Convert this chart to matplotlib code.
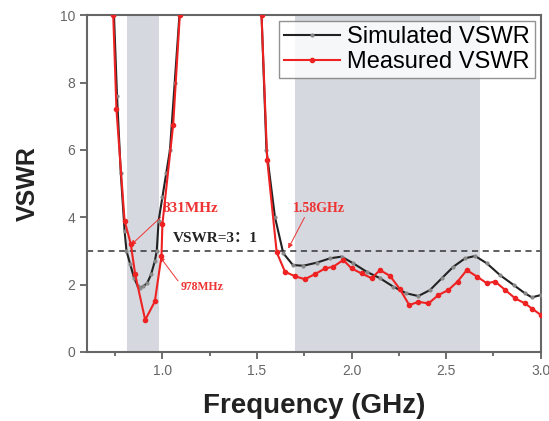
"""VSWR chart."""
import matplotlib
matplotlib.use("Agg")
import matplotlib.pyplot as plt
from matplotlib.ticker import MultipleLocator

# simulated VSWR, low band and high band
sim_f1 = [0.744, 0.76, 0.78, 0.80, 0.81, 0.83, 0.85, 0.87, 0.88, 0.90, 0.92,
          0.94, 0.96, 0.97, 0.98, 1.00, 1.02, 1.04, 1.065, 1.09]
sim_v1 = [10.0, 7.6, 5.3, 3.6, 3.0, 2.6, 2.2, 1.95, 1.9, 1.95, 2.05,
          2.3, 2.7, 3.0, 3.9, 4.6, 5.3, 6.0, 8.0, 10.0]
sim_f2 = [1.524, 1.55, 1.595, 1.639, 1.69, 1.745, 1.815, 1.886, 1.947, 2.009,
          2.08, 2.15, 2.22, 2.29, 2.353, 2.415, 2.477, 2.538, 2.60, 2.653,
          2.715, 2.785, 2.856, 2.917, 2.953, 3.0]
sim_v2 = [10.0, 6.0, 4.0, 2.93, 2.58, 2.56, 2.65, 2.78, 2.83, 2.63,
          2.38, 2.19, 1.94, 1.74, 1.66, 1.84, 2.19, 2.53, 2.78, 2.85,
          2.63, 2.28, 1.99, 1.74, 1.62, 1.69]

# measured VSWR
mea_f1 = [0.74, 0.757, 0.80, 0.833, 0.856, 0.909, 0.96, 0.995, 1.0, 1.057,
          1.092]
mea_v1 = [10.0, 7.2, 3.9, 3.2, 2.3, 0.95, 1.5, 2.85, 3.8, 6.75, 10.0]
mea_f2 = [1.524, 1.554, 1.604, 1.648, 1.70, 1.753, 1.806, 1.86, 1.903, 1.956,
          2.0, 2.053, 2.106, 2.15, 2.203, 2.256, 2.305, 2.353, 2.406, 2.459,
          2.512, 2.56, 2.609, 2.662, 2.715, 2.759, 2.812, 2.865, 2.917,
          2.953, 3.0]
mea_v2 = [10.0, 5.7, 2.96, 2.38, 2.25, 2.16, 2.31, 2.48, 2.53, 2.73,
          2.48, 2.33, 2.19, 2.43, 2.26, 1.86, 1.39, 1.49, 1.44, 1.69,
          1.84, 2.09, 2.43, 2.24, 2.04, 2.09, 1.84, 1.59, 1.44,
          1.29, 1.10]

bands = [(0.815, 0.982), (1.70, 2.68)]


def main():
    """Draw it."""
    plt.rcParams["font.family"] = ["Liberation Sans", "DejaVu Sans"]
    dpi = 100
    fig = plt.figure(dpi=dpi, figsize=(549 / dpi, 421 / dpi))
    ax = fig.add_axes([0.158, 0.164, 0.827, 0.800])

    for lo, hi in bands:
        ax.axvspan(lo, hi, color="#d5d8de", lw=0, zorder=0)
    ax.axhline(3, color="#333333", ls="--", lw=1.1, dashes=(4, 3), zorder=1)

    ax.plot(sim_f1, sim_v1, color="#222222", lw=1.5, marker="o", ms=2,
            mfc="#888888", mec="#888888", zorder=3, label="Simulated VSWR")
    ax.plot(sim_f2, sim_v2, color="#222222", lw=1.5, marker="o", ms=2,
            mfc="#888888", mec="#888888", zorder=3)
    ax.plot(mea_f1, mea_v1, color="#ee2222", lw=1.5, marker="o", ms=3,
            zorder=4, label="Measured VSWR")
    ax.plot(mea_f2, mea_v2, color="#ee2222", lw=1.5, marker="o", ms=3,
            zorder=4)

    red = "#ee3333"
    serif = ["Liberation Serif", "Noto Sans CJK SC"]
    ax.annotate("831MHz", xy=(0.833, 3.17), xytext=(1.0, 4.27), color=red,
                fontsize=11, fontweight="bold", family=serif, va="center",
                arrowprops=dict(arrowstyle="-|>", color=red, lw=0.7,
                                mutation_scale=7, shrinkA=0, shrinkB=0,
                                relpos=(0.02, 0.0)))
    ax.annotate("978MHz", xy=(0.986, 2.83), xytext=(1.097, 1.93), color=red,
                fontsize=8.5, fontweight="bold", family=serif, va="center",
                arrowprops=dict(arrowstyle="-|>", color=red, lw=0.7,
                                mutation_scale=7, shrinkA=0, shrinkB=0,
                                relpos=(0.0, 0.7)))
    ax.annotate("1.58GHz", xy=(1.665, 3.07), xytext=(1.69, 4.27), color=red,
                fontsize=10, fontweight="bold", family=serif, va="center",
                arrowprops=dict(arrowstyle="-|>", color=red, lw=0.7,
                                mutation_scale=7, shrinkA=0, shrinkB=0,
                                relpos=(0.25, 0.0)))
    ax.text(1.055, 3.38, "VSWR=3：1", fontsize=11, fontweight="bold",
            family=serif, color="#222222", va="center")

    ax.set_xlim(0.6, 3.0)
    ax.set_ylim(0, 10)
    ax.xaxis.set_major_locator(MultipleLocator(0.5))
    ax.xaxis.set_minor_locator(MultipleLocator(0.25))
    ax.yaxis.set_major_locator(MultipleLocator(2))
    ax.tick_params(axis="both", which="major", length=5, width=1.2,
                   colors="#555555", labelsize=10, labelcolor="#666666")
    ax.tick_params(axis="x", which="minor", length=3, width=1.2,
                   colors="#555555")
    for sp in ax.spines.values():
        sp.set_color("#666666")
        sp.set_linewidth(1.5)

    ax.set_xlabel("Frequency (GHz)", fontsize=20, fontweight="bold",
                  color="#222222", labelpad=11)
    ax.set_ylabel("VSWR", fontsize=18, fontweight="bold", color="#222222",
                  labelpad=14)

    leg = ax.legend(loc="upper right", fontsize=17, frameon=True,
                    fancybox=False, borderpad=0.2, handlelength=2.4,
                    labelspacing=0.15, borderaxespad=0.25,
                    handletextpad=0.3)
    leg.get_frame().set_edgecolor("#777777")
    leg.get_frame().set_linewidth(1.0)

    fig.savefig("out.png", dpi=dpi)


if __name__ == "__main__":
    main()
